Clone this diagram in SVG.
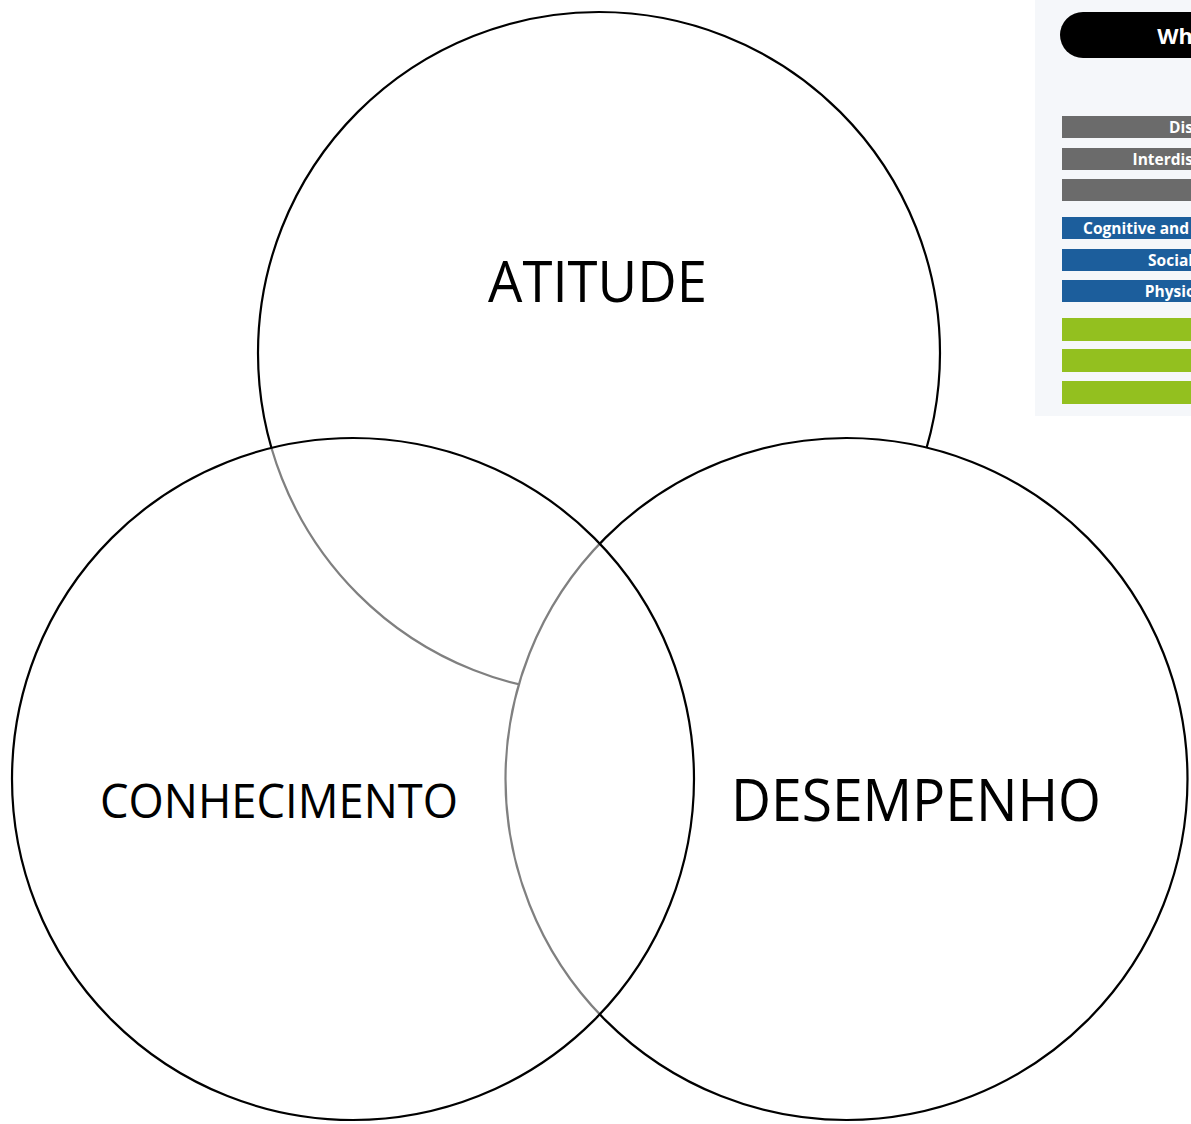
<svg xmlns="http://www.w3.org/2000/svg" width="1191" height="1124" viewBox="0 0 1191 1124">
  <style>
    .ring { stroke: #000; stroke-width: 2.2; fill: #fff; }
    .lbl { font-family: "Open Sans", "Liberation Sans", sans-serif; fill: #000; }
    .bar-t { font-family: "Open Sans", "Liberation Sans", sans-serif; font-weight: bold; font-size: 15.5px; fill: #fff; text-anchor: end; }
  </style>
  <rect x="0" y="0" width="1191" height="1124" fill="#fff"/>

  <g id="panel">
    <rect x="1035" y="0" width="156" height="416" fill="#f5f7fa"/>
    <rect x="1060" y="12" width="160" height="46" rx="23" fill="#000"/>
    <text x="1193" y="44" font-family="'Open Sans', 'Liberation Sans', sans-serif" font-weight="bold" font-size="22" fill="#fff" text-anchor="end">Wh</text>
    <rect x="1062" y="116" width="129" height="22" fill="#6b6b6b"/>
    <text class="bar-t" x="1193" y="133">Dis</text>
    <rect x="1062" y="148" width="129" height="22" fill="#6b6b6b"/>
    <text class="bar-t" x="1193" y="165">Interdis</text>
    <rect x="1062" y="179" width="129" height="22" fill="#6b6b6b"/>
    <rect x="1062" y="217" width="129" height="22" fill="#1c5e9c"/>
    <text class="bar-t" x="1189" y="234">Cognitive and</text>
    <rect x="1062" y="249" width="129" height="22" fill="#1c5e9c"/>
    <text class="bar-t" x="1193" y="266">Social</text>
    <rect x="1062" y="280" width="129" height="22" fill="#1c5e9c"/>
    <text class="bar-t" x="1194" y="297">Physic</text>
    <rect x="1062" y="318" width="129" height="23" fill="#93c01f"/>
    <rect x="1062" y="349" width="129" height="23" fill="#93c01f"/>
    <rect x="1062" y="381" width="129" height="23" fill="#93c01f"/>
  </g>

  <g id="atitude">
    <circle class="ring" cx="599" cy="353" r="341"/>
    <text class="lbl" x="488" y="302" font-size="56" textLength="219" lengthAdjust="spacingAndGlyphs">ATITUDE</text>
  </g>

  <g id="desempenho">
    <circle class="ring" cx="846.5" cy="779" r="341"/>
    <text class="lbl" x="731" y="821" font-size="58" textLength="370" lengthAdjust="spacingAndGlyphs">DESEMPENHO</text>
  </g>

  <g id="conhecimento">
    <circle class="ring" cx="353" cy="779" r="341" fill-opacity="0.5"/>
    <text class="lbl" x="100" y="818" font-size="47" textLength="358" lengthAdjust="spacingAndGlyphs">CONHECIMENTO</text>
  </g>

  <g id="connectors"></g>
</svg>
